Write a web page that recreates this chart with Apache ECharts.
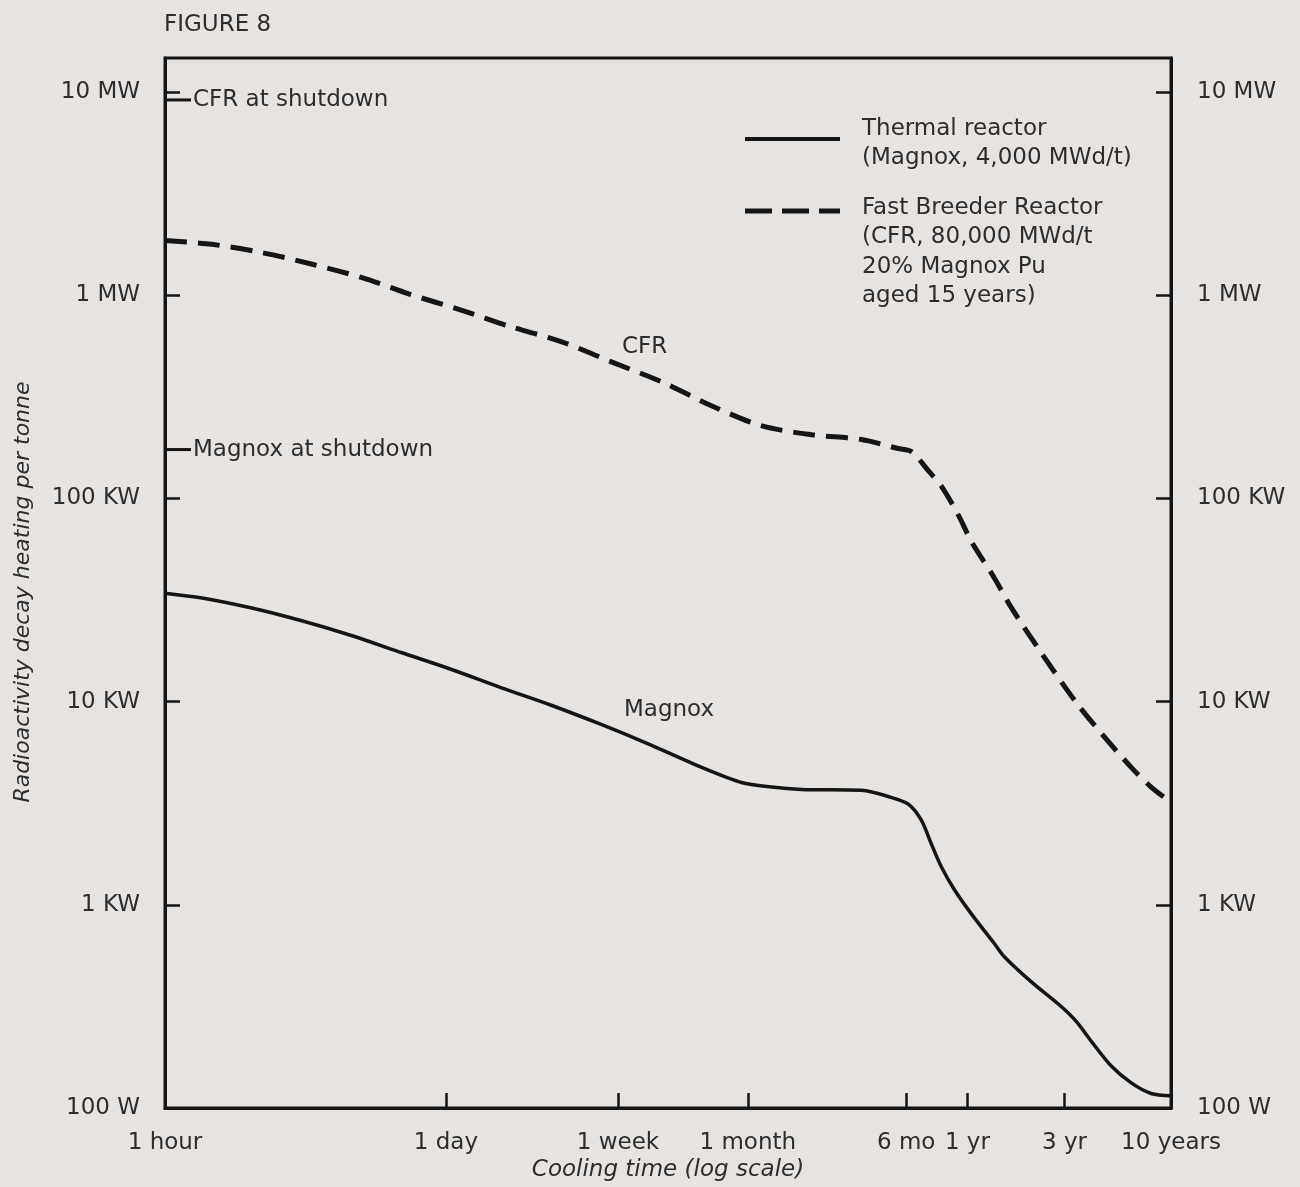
<!DOCTYPE html>
<html>
<head>
<meta charset="utf-8">
<script src="https://cdn.jsdelivr.net/npm/echarts@6/dist/echarts.min.js"></script>
<style>
  html, body { margin: 0; padding: 0; background: #e6e3e1; }
  #chart { width: 1300px; height: 1187px; }
</style>
</head>
<body>
<div id="chart"></div>
<script>
// ---- data (cooling time in hours, decay heat in watts per tonne) ----
const cfrHours = [1, 1.7, 3, 5.3, 9.3, 16, 29, 50, 89, 156, 275, 484, 850, 1500, 2640, 4000, 4650, 5630, 6520, 7900, 9160, 11900, 14400, 20200, 30000, 39800, 55900, 70000, 87660];
const cfrWatts = [1.86e6, 1.78e6, 1.62e6, 1.42e6, 1.22e6, 1.01e6, 8.4e5, 7.0e5, 5.9e5, 4.7e5, 3.75e5, 2.86e5, 2.28e5, 2.06e5, 1.95e5, 1.76e5, 1.70e5, 1.37e5, 1.15e5, 8.3e4, 6.15e4, 4.05e4, 2.9e4, 1.74e4, 9.9e3, 7.0e3, 4.75e3, 3.8e3, 3.2e3];

const magnoxHours = [1, 1.52, 2.67, 4.7, 8.3, 14.6, 25.6, 45, 79, 140, 246, 433, 680, 955, 1340, 2640, 3700, 4490, 5200, 5830, 6520, 7550, 9160, 11900, 13300, 18000, 25300, 30000, 35600, 44600, 55900, 70000, 87660];
const magnoxWatts = [3.42e4, 3.24e4, 2.89e4, 2.5e4, 2.11e4, 1.74e4, 1.44e4, 1.17e4, 9.6e3, 7.7e3, 6.1e3, 4.75e3, 4.0e3, 3.8e3, 3.7e3, 3.66e3, 3.38e3, 3.13e3, 2.61e3, 1.99e3, 1.54e3, 1.19e3, 903, 644, 556, 419, 316, 267, 213, 161, 133, 118, 115];

const shutdownLabels = ['CFR at shutdown', 'Magnox at shutdown'];
const shutdownHours = [1, 1];
const shutdownWatts = [9.14e6, 1.74e5];

const xTickHours = [1, 24, 168, 730, 4380, 8760, 26280, 87660];
const xTickLabels = ['1 hour', '1 day', '1 week', '1 month', '6 mo', '1 yr', '3 yr', '10 years'];
const yTickWatts = [100, 1000, 10000, 100000, 1000000, 10000000];
const yTickLabels = ['100 W', '1 KW', '10 KW', '100 KW', '1 MW', '10 MW'];

const xMin = 1, xMax = 87660, yMin = 100, yMax = 1.47e7;

// ---- styling ----
const FONT = 'DejaVu Sans';
const FS = 23;
const INK = '#151515';
const TXT = '#2d2d2d';

const pairs = (xs, ys) => xs.map((x, i) => [x, ys[i]]);
const xLogTicks = xTickHours.map(h => Math.log10(h));
const xInnerTicks = xLogTicks.slice(1, -1);
function xLabel(v) {
  for (let i = 0; i < xLogTicks.length; i++) if (Math.abs(xLogTicks[i] - v) < 1e-6) return xTickLabels[i];
  return '';
}
function yLabel(v) {
  for (let i = 0; i < yTickWatts.length; i++) if (Math.abs(Math.log10(yTickWatts[i]) - Math.log10(v)) < 1e-6) return yTickLabels[i];
  return '';
}
const yAxisCommon = {
  type: 'log', logBase: 10, min: yMin, max: yMax,
  axisLine: { show: true, lineStyle: { color: INK, width: 3 } },
  axisTick: { show: true, inside: true, length: 15, lineStyle: { color: INK, width: 2.5 } },
  splitLine: { show: false },
  minorTick: { show: false },
  axisLabel: { formatter: yLabel, fontFamily: FONT, fontSize: FS, color: TXT, margin: 25, showMaxLabel: false }
};
const font = FS + 'px "DejaVu Sans"';

const chart = echarts.init(document.getElementById('chart'), null, { renderer: 'canvas' });
chart.setOption({
  backgroundColor: '#e6e3e1',
  animation: false,
  title: {
    text: 'FIGURE 8', left: 159, top: 9,
    textStyle: { fontFamily: FONT, fontSize: 23, fontWeight: 'normal', color: TXT }
  },
  grid: { left: 165, right: 129, top: 58, bottom: 75, show: true, borderColor: INK, borderWidth: 3, backgroundColor: 'transparent' },
  xAxis: [
    {
      type: 'log', logBase: 10, min: xMin, max: xMax, position: 'bottom',
      axisLine: { show: true, lineStyle: { color: INK, width: 3 } },
      axisTick: { show: false }, axisLabel: { show: false }, splitLine: { show: false }, minorTick: { show: false }
    },
    {
      type: 'value', min: 0, max: Math.log10(xMax), position: 'bottom',
      axisLine: { show: false },
      axisTick: { show: true, inside: true, length: 15, customValues: xInnerTicks, lineStyle: { color: INK, width: 2.5 } },
      axisLabel: { customValues: xLogTicks, formatter: xLabel, fontFamily: FONT, fontSize: FS, color: TXT, margin: 23 },
      splitLine: { show: false },
      name: 'Cooling time (log scale)', nameLocation: 'middle', nameGap: 47,
      nameTextStyle: { fontFamily: FONT, fontSize: FS, fontStyle: 'italic', color: TXT }
    }
  ],
  yAxis: [
    Object.assign({}, yAxisCommon, {
      position: 'left',
      name: 'Radioactivity decay heating per tonne', nameLocation: 'middle', nameGap: 131,
      nameTextStyle: { fontFamily: FONT, fontSize: 22, fontStyle: 'italic', color: TXT, padding: [0, 18, 0, 0] }
    }),
    Object.assign({}, yAxisCommon, {
      position: 'right',
      axisLabel: Object.assign({}, yAxisCommon.axisLabel, { margin: 26 })
    })
  ],
  series: [
    {
      name: 'Fast Breeder Reactor', type: 'line', xAxisIndex: 0, yAxisIndex: 0,
      data: pairs(cfrHours, cfrWatts), showSymbol: false, smooth: 0.3,
      lineStyle: { color: INK, width: 5, type: [22, 11], cap: 'butt' }
    },
    {
      name: 'Thermal reactor', type: 'line', xAxisIndex: 0, yAxisIndex: 0,
      data: pairs(magnoxHours, magnoxWatts), showSymbol: false, smooth: 0.3,
      lineStyle: { color: INK, width: 3.5 }
    },
    {
      name: 'At shutdown', type: 'scatter', xAxisIndex: 0, yAxisIndex: 0, clip: false,
      data: shutdownHours.map((h, i) => ({ value: [h, shutdownWatts[i]], name: shutdownLabels[i] })),
      symbol: 'rect', symbolSize: [26, 3], symbolOffset: [13, 0],
      itemStyle: { color: INK, opacity: 1 },
      label: { show: true, position: 'right', distance: 2, formatter: p => p.name, fontFamily: FONT, fontSize: FS, color: TXT }
    }
  ],
  graphic: [
    { type: 'text', left: 622, top: 336, style: { text: 'CFR', font: font, fill: TXT } },
    { type: 'text', left: 624, top: 699, style: { text: 'Magnox', font: font, fill: TXT } },
    { type: 'line', shape: { x1: 745, y1: 139, x2: 840, y2: 139 }, style: { stroke: INK, lineWidth: 4 } },
    { type: 'line', shape: { x1: 745, y1: 211, x2: 840, y2: 211 }, style: { stroke: INK, lineWidth: 5, lineDash: [27, 10] } },
    { type: 'text', left: 862, top: 115, style: { text: 'Thermal reactor\n(Magnox, 4,000 MWd/t)', font: font, lineHeight: 29, fill: TXT } },
    { type: 'text', left: 862, top: 193, style: { text: 'Fast Breeder Reactor\n(CFR, 80,000 MWd/t\n20% Magnox Pu\naged 15 years)', font: font, lineHeight: 29.5, fill: TXT } }
  ]
});
</script>
</body>
</html>
